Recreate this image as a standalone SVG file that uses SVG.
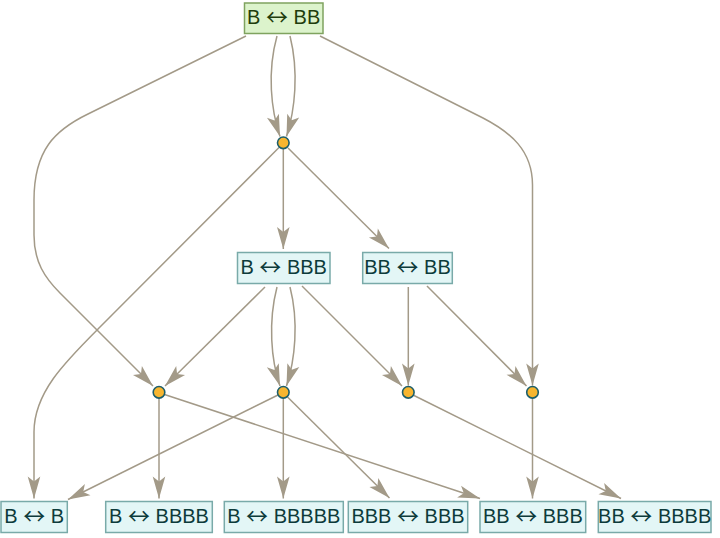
<svg xmlns="http://www.w3.org/2000/svg" width="720" height="538" viewBox="0 0 720 538">
<style>
.e{fill:none;stroke:#a39a88;stroke-width:1.5}
.n rect{fill:#e3f6f6;stroke:#79aaa9;stroke-width:1.5}
.n text{fill:#0d3b3b}
.g rect{fill:#dcf3cc;stroke:#7fa35f;stroke-width:1.5}
.g text{fill:#1f3d0d}
text{font-family:"Liberation Sans",Arial,sans-serif;font-size:20px;text-anchor:middle}
.ar{font-family:"Noto Sans CJK JP",sans-serif;font-size:22px}
.d{fill:#f7b52f;stroke:#1b5e6b;stroke-width:1.6}
</style>
<defs>
<marker id="a" viewBox="-23 -7 24 14" refX="0" refY="0" markerWidth="24" markerHeight="14" markerUnits="userSpaceOnUse" orient="auto">
<path d="M0,0 L-22,-6.3 L-17,0 L-22,6.3 Z" fill="#a39a88"/>
</marker>
</defs>
<g id="edges">
<path class="e" marker-end="url(#a)" d="M277,36 C267,72 271,110 280,136.5"/>
<path class="e" marker-end="url(#a)" d="M290,36 C299,72 295,110 286.5,136.5"/>
<path class="e" marker-end="url(#a)" d="M246,36 L88,114 C55,130 34,150 34,200 L34,235 C34,262 45,278 60,293 L153,386"/>
<path class="e" marker-end="url(#a)" d="M320,36 L483,118 C510,132 532.5,150 532.5,185 L532.5,385.5"/>
<path class="e" marker-end="url(#a)" d="M283.3,149 L283.3,249"/>
<path class="e" marker-end="url(#a)" d="M288,148 L389,248.5"/>
<path class="e" marker-end="url(#a)" d="M279,147.5 L100,327 C66,361 34,392 34,432 L34,498.5"/>
<path class="e" marker-end="url(#a)" d="M265,287 L165,386"/>
<path class="e" marker-end="url(#a)" d="M277,287 C268,322 271,360 280,386"/>
<path class="e" marker-end="url(#a)" d="M290,287 C299,322 295,360 286.5,386"/>
<path class="e" marker-end="url(#a)" d="M302,286 L402,386"/>
<path class="e" marker-end="url(#a)" d="M408.3,287 L408.3,385.5"/>
<path class="e" marker-end="url(#a)" d="M427,286 L526.5,386"/>
<path class="e" marker-end="url(#a)" d="M159,398 L159,498.5"/>
<path class="e" marker-end="url(#a)" d="M164.5,394.5 L480,498.5"/>
<path class="e" marker-end="url(#a)" d="M278,395 L68,499.5"/>
<path class="e" marker-end="url(#a)" d="M283.3,398 L283.3,498.5"/>
<path class="e" marker-end="url(#a)" d="M287.5,397 L389.5,498"/>
<path class="e" marker-end="url(#a)" d="M413,395 L621,498.5"/>
<path class="e" marker-end="url(#a)" d="M532.5,398 L532.5,498.5"/>
</g>
<g id="n0" class="g"><rect x="244.5" y="3" width="78.5" height="30.5"/><text x="283.7" y="23.5">B <tspan class="ar" dy="1">↔</tspan><tspan dy="-1"> BB</tspan></text></g>
<g id="p1"><circle class="d" cx="283.3" cy="142.8" r="5.8"/></g>
<g id="n1" class="n"><rect x="237.5" y="252.5" width="92.5" height="31"/><text x="283.7" y="273.5">B <tspan class="ar" dy="1">↔</tspan><tspan dy="-1"> BBB</tspan></text></g>
<g id="n2" class="n"><rect x="362.7" y="252.5" width="89.6" height="31"/><text x="407.5" y="273.5">BB <tspan class="ar" dy="1">↔</tspan><tspan dy="-1"> BB</tspan></text></g>
<g id="p2"><circle class="d" cx="159" cy="392.3" r="5.8"/></g>
<g id="p3"><circle class="d" cx="283.3" cy="392.3" r="5.8"/></g>
<g id="p4"><circle class="d" cx="408.3" cy="392.3" r="5.8"/></g>
<g id="p5"><circle class="d" cx="532.5" cy="392.3" r="5.8"/></g>
<g id="n3" class="n"><rect x="1" y="501.5" width="66.3" height="31"/><text x="34.2" y="523">B <tspan class="ar" dy="1">↔</tspan><tspan dy="-1"> B</tspan></text></g>
<g id="n4" class="n"><rect x="105.7" y="501.5" width="106.6" height="31"/><text x="159" y="523">B <tspan class="ar" dy="1">↔</tspan><tspan dy="-1"> BBBB</tspan></text></g>
<g id="n5" class="n"><rect x="224.3" y="501.5" width="119" height="31"/><text x="283.8" y="523">B <tspan class="ar" dy="1">↔</tspan><tspan dy="-1"> BBBBB</tspan></text></g>
<g id="n6" class="n"><rect x="348.3" y="501.5" width="119.4" height="31"/><text x="408" y="523">BBB <tspan class="ar" dy="1">↔</tspan><tspan dy="-1"> BBB</tspan></text></g>
<g id="n7" class="n"><rect x="480" y="501.5" width="105.7" height="31"/><text x="532.8" y="523">BB <tspan class="ar" dy="1">↔</tspan><tspan dy="-1"> BBB</tspan></text></g>
<g id="n8" class="n"><rect x="598.3" y="501.5" width="112.7" height="31"/><text x="654.7" y="523">BB <tspan class="ar" dy="1">↔</tspan><tspan dy="-1"> BBBB</tspan></text></g>
</svg>
